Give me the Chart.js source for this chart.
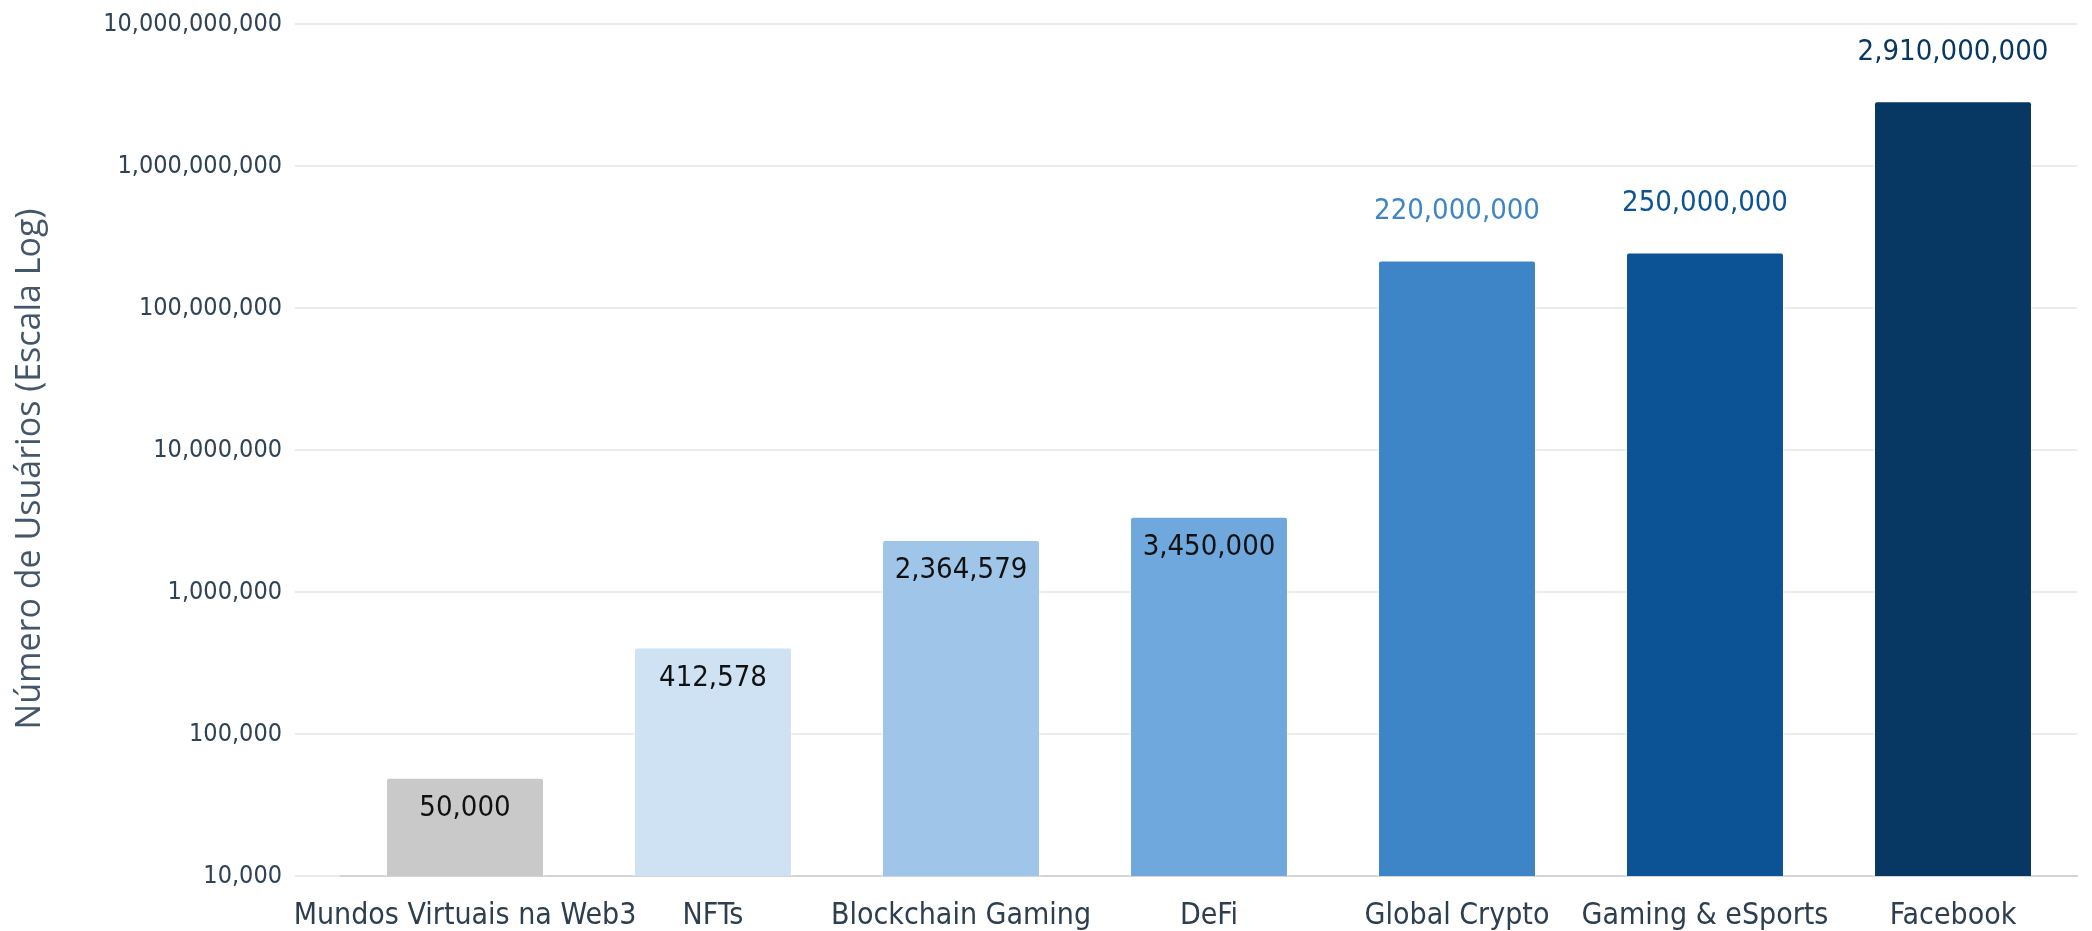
<!DOCTYPE html>
<html>
<head>
<meta charset="utf-8">
<script src="https://cdn.jsdelivr.net/npm/chart.js@4"></script>
<style>
    html, body { margin: 0; padding: 0; background: #ffffff; }
    #wrap { width: 2092px; height: 931px; }
</style>
</head>
<body>
<div id="wrap"><canvas id="usersChart" width="2092" height="931"></canvas></div>
<script>
// Users per platform (log scale)
const categories = ['Mundos Virtuais na Web3', 'NFTs', 'Blockchain Gaming', 'DeFi', 'Global Crypto', 'Gaming & eSports', 'Facebook'];
const userCounts = [50000, 412578, 2364579, 3450000, 220000000, 250000000, 2910000000];
const barColors = ['#c9c9c9', '#cfe2f3', '#9fc5e8', '#6fa8dc', '#3d85c6', '#0b5394', '#073763'];
const labelInside = [true, true, true, true, false, false, false];
const tickValues = [1e4, 1e5, 1e6, 1e7, 1e8, 1e9, 1e10];
const tickLabels = ['10,000', '100,000', '1,000,000', '10,000,000', '100,000,000', '1,000,000,000', '10,000,000,000'];
const yTitle = 'Número de Usuários (Escala Log)';

const condensed = "'DejaVu Sans Condensed', 'DejaVu Sans', sans-serif";

// Draws the value labels: inside the bar for small ones, above it for large ones
const valueLabels = {
    id: 'valueLabels',
    afterDatasetsDraw(chart) {
        const ctx = chart.ctx;
        const meta = chart.getDatasetMeta(0);
        ctx.save();
        ctx.font = '29px ' + condensed;
        ctx.textAlign = 'center';
        ctx.textBaseline = 'middle';
        meta.data.forEach((bar, i) => {
            const text = userCounts[i].toLocaleString('en-US');
            if (labelInside[i]) {
                ctx.fillStyle = '#111111';
                ctx.fillText(text, bar.x, bar.y + 32);
            } else {
                ctx.lineWidth = 6;
                ctx.lineJoin = 'round';
                ctx.strokeStyle = 'rgba(255,255,255,0.95)';
                ctx.strokeText(text, bar.x, bar.y - 48);
                ctx.fillStyle = barColors[i];
                ctx.fillText(text, bar.x, bar.y - 48);
            }
        });
        ctx.restore();
    }
};

// Y axis title, centred on the canvas height rather than the plot area
const axisTitle = {
    id: 'axisTitle',
    afterDraw(chart) {
        const ctx = chart.ctx;
        ctx.save();
        ctx.translate(30, 469);
        ctx.rotate(-Math.PI / 2);
        ctx.font = "34px 'Open Sans', sans-serif";
        ctx.fillStyle = '#44576a';
        ctx.textAlign = 'center';
        ctx.textBaseline = 'middle';
        ctx.fillText(yTitle, 0, 0);
        ctx.restore();
    }
};

new Chart(document.getElementById('usersChart'), {
    type: 'bar',
    data: {
        labels: categories,
        datasets: [{
            data: userCounts,
            backgroundColor: barColors,
            borderColor: 'rgba(255, 255, 255, 0.35)',
            borderWidth: 2,
            borderSkipped: 'bottom',
            borderRadius: 4,
            barPercentage: 0.645,
            categoryPercentage: 1.0
        }]
    },
    options: {
        responsive: false,
        animation: false,
        layout: { padding: { top: 24, right: 15, bottom: 0, left: 0 } },
        plugins: {
            legend: { display: false },
            tooltip: { enabled: false }
        },
        scales: {
            x: {
                afterFit: (scale) => {
                    scale.height = 55;
                },
                grid: { display: false, drawTicks: false },
                border: { display: true, color: '#d4d4d4', width: 2 },
                ticks: {
                    color: '#2c3e50',
                    padding: 22,
                    maxRotation: 0,
                    autoSkip: false,
                    font: { family: condensed, size: 30 }
                }
            },
            y: {
                type: 'logarithmic',
                min: 1e4,
                max: 1e10,
                afterBuildTicks: (scale) => {
                    scale.ticks = tickValues.map(v => ({ value: v }));
                },
                afterFit: (scale) => {
                    scale.width = 341;
                    scale.paddingTop = 0;
                    scale.paddingBottom = 0;
                },
                grid: { color: '#ebebeb', lineWidth: 2, tickLength: 46 },
                border: { display: false },
                ticks: {
                    color: '#2f4256',
                    padding: 13,
                    font: { family: condensed, size: 25 },
                    callback: (value) => {
                        const idx = tickValues.indexOf(value);
                        return idx >= 0 ? tickLabels[idx] : '';
                    }
                }
            }
        }
    },
    plugins: [valueLabels, axisTitle]
});
</script>
</body>
</html>
